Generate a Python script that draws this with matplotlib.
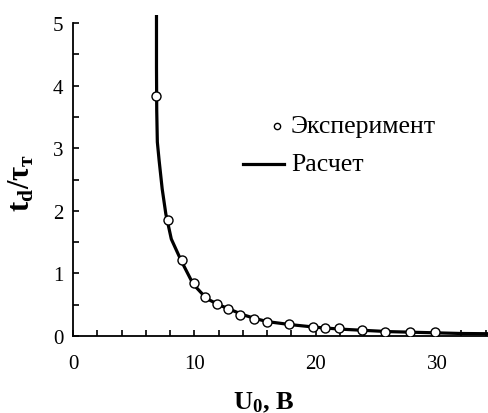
import matplotlib
matplotlib.use('Agg')
import matplotlib.pyplot as plt
import numpy as np

u_exp = [6.8, 7.8, 9.0, 9.95, 10.9, 11.9, 12.8, 13.8, 14.9, 16.0, 17.8, 19.8, 20.8, 21.9, 23.8, 25.7, 27.8, 29.8]
t_exp = [3.83, 1.86, 1.21, 0.85, 0.63, 0.51, 0.43, 0.33, 0.27, 0.22, 0.19, 0.15, 0.12, 0.12, 0.10, 0.06, 0.06, 0.06]

# calculated curve
u_calc = [6.88, 6.88, 6.9, 6.95, 7.1, 7.35, 7.65, 8.1, 8.9, 9.9, 11.0, 12.0, 13.0, 14.0, 15.0, 16.0, 18.0, 20.0, 22.0, 24.0, 26.0, 28.0, 30.0, 32.0, 35.0]
t_calc = [5.13, 4.3, 3.6, 3.1, 2.8, 2.35, 1.95, 1.55, 1.21, 0.83, 0.6, 0.5, 0.42, 0.34, 0.28, 0.23, 0.18, 0.14, 0.11, 0.09, 0.07, 0.06, 0.05, 0.04, 0.035]

plt.rcParams['font.family'] = ['Liberation Serif', 'DejaVu Serif']
plt.rcParams['mathtext.fontset'] = 'custom'
plt.rcParams['mathtext.rm'] = 'Liberation Serif'
plt.rcParams['mathtext.bf'] = 'Liberation Serif:bold'

fig = plt.figure(figsize=(4.88, 4.14), dpi=100)
ax = fig.add_axes([0.1496, 0.186, 0.8504, 0.7754])

ax.plot(u_calc, t_calc, color='black', lw=2.3, zorder=2)
ax.plot(u_exp, t_exp, 'o', ms=6.5, mfc='white', mec='black', mew=1.0, zorder=3)

ax.set_xlim(0, 34.2)
ax.set_ylim(0, 5.13)
ax.spines['top'].set_visible(False)
ax.spines['right'].set_visible(False)
ax.spines['left'].set_bounds(0, 5)
for s in ['left', 'bottom']:
    ax.spines[s].set_linewidth(1.3)

ax.set_xticks([0, 10, 20, 30])
ax.set_xticks(np.arange(0, 35, 2), minor=True)
ax.set_yticks([0, 1, 2, 3, 4, 5])
ax.set_yticks(np.arange(0, 5.01, 0.5), minor=True)
ax.tick_params(which='both', direction='in', length=4, width=1.2)
ax.tick_params(axis='x', which='major', pad=13, labelsize=15)
ax.tick_params(axis='y', which='major', pad=7, labelsize=15)

# axis labels placed where the original has them
ax.text(0.46, -0.205, r'$\mathbf{U_0}$, B', transform=ax.transAxes, fontsize=19,
        fontweight='bold', ha='center', va='center')
ax.text(-0.123, 0.48, r'$\mathbf{t_d/\tau_т}$', transform=ax.transAxes, fontsize=22,
        rotation=90, ha='center', va='center')

# legend drawn by hand
ax.plot([0.4916], [0.654], 'o', ms=4.5, mfc='white', mec='black', mew=1.0,
        transform=ax.transAxes, clip_on=False)
ax.text(0.525, 0.654, 'Эксперимент', transform=ax.transAxes, fontsize=18.5, va='center')
ax.plot([0.41, 0.508], [0.536, 0.536], color='black', lw=2.3, transform=ax.transAxes)
ax.text(0.525, 0.536, 'Расчет', transform=ax.transAxes, fontsize=18.5, va='center')

fig.savefig('out.png', dpi=100)
